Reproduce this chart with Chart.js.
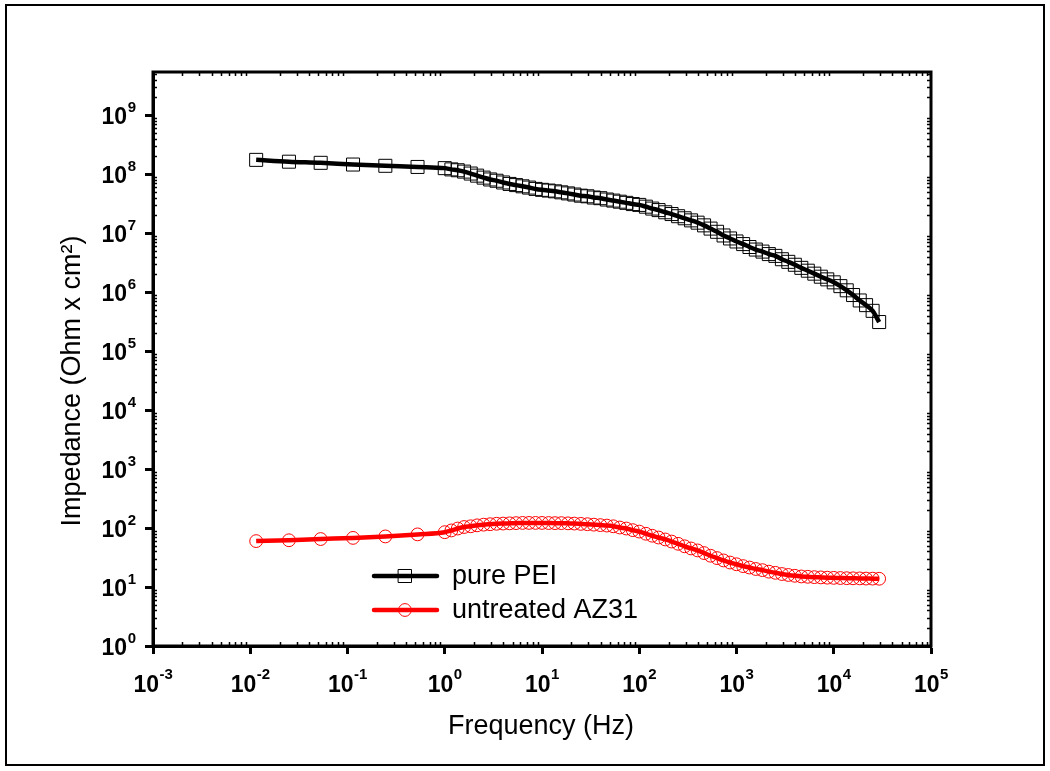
<!DOCTYPE html>
<html><head><meta charset="utf-8">
<script src="https://cdn.jsdelivr.net/npm/chart.js@4/dist/chart.umd.min.js"></script>
<style>html,body{margin:0;padding:0;background:#fff}#wrap{position:relative;width:1050px;height:771px}</style>
</head><body><div id="wrap"><canvas id="c"></canvas></div>
<script>
const frequencies = [
 0.0115, 0.025, 0.053, 0.114, 0.245, 0.525, 1.0,
 1.17, 1.36, 1.58, 1.85, 2.15, 2.51, 2.93, 3.41, 3.98, 4.64, 5.41, 6.31, 7.36, 8.58, 10.0,
 11.7, 13.6, 15.8, 18.5, 21.5, 25.1, 29.3, 34.1, 39.8, 46.4, 54.1, 63.1, 73.6, 85.8, 100,
 117, 136, 158, 185, 215, 251, 293, 341, 398, 464, 541, 631, 736, 858, 1000,
 1170, 1360, 1580, 1850, 2150, 2510, 2930, 3410, 3980, 4640, 5410, 6310, 7360, 8580, 10000,
 11700, 13600, 15800, 18500, 21500, 25100, 29300
];
const peiImpedance = [
 1.74e8,1.62e8,1.55e8,1.45e8,1.38e8,1.32e8,1.26e8,
 1.20e8,1.16e8,1.10e8,1.02e8,9.4e7,8.7e7,8.1e7,7.7e7,7.2e7,6.8e7,6.5e7,6.2e7,5.9e7,5.6e7,5.4e7,
 5.25e7,5.1e7,4.9e7,4.7e7,4.5e7,4.3e7,4.2e7,4.0e7,3.9e7,3.7e7,3.55e7,3.4e7,3.25e7,3.1e7,3.0e7,
 2.8e7,2.6e7,2.45e7,2.25e7,2.1e7,1.93e7,1.78e7,1.64e7,1.5e7,1.35e7,1.19e7,1.05e7,9.1e6,8.1e6,7.2e6,
 6.5e6,5.8e6,5.25e6,4.85e6,4.4e6,4.1e6,3.6e6,3.25e6,2.9e6,2.57e6,2.3e6,2.05e6,1.82e6,1.64e6,1.46e6,
 1.26e6,1.07e6,8.9e5,7.2e5,6.0e5,4.8e5,3.1e5
];
const az31Impedance = [
 60,62,65,68,72,78,85,
 91,98,104,107,111,114,116,118,119,120,121,122,122,122,122,
 121.5,121,121,120,119,117.5,116,114,112,110,107,102,98,92,87,
 80,74,69,64,59,54,49,45,41.7,37.6,33.9,30.9,28.2,26,24.3,
 22.6,21.4,20.2,19.3,18.2,17.4,16.6,16.0,15.5,15.1,14.9,14.7,14.55,14.4,14.3,
 14.2,14.1,14.05,14.0,13.9,13.87,13.8
];
const seriesLabels = ['pure PEI', 'untreated AZ31'];
const xTickValues = [1e-3,1e-2,1e-1,1e0,1e1,1e2,1e3,1e4,1e5];
const yTickValues = [1e0,1e1,1e2,1e3,1e4,1e5,1e6,1e7,1e8,1e9];
const xAxisTitle = 'Frequency (Hz)';
const yAxisTitle = 'Impedance (Ohm x cm\u00B2)';

const FONT = "'Liberation Sans', Arial, sans-serif";
function expOf(v){ return String(Math.round(Math.log10(v))); }

const outerBorder = {
  id:'outerBorder',
  afterDraw(chart){
    const ctx = chart.ctx;
    ctx.save();
    ctx.strokeStyle = '#000'; ctx.lineWidth = 2;
    ctx.strokeRect(6, 5, 1038, 760);
    ctx.restore();
  }
};
const frame = {
  id:'frame',
  afterDraw(chart){
    const {ctx, chartArea:a, scales:{x,y}} = chart;
    ctx.save();
    ctx.strokeStyle = '#000';
    ctx.lineWidth = 1.5;
    ctx.beginPath();
    for (let d=-3; d<5; d++) for (let m=2; m<10; m++){
      const px = Math.round(x.getPixelForValue(m*Math.pow(10,d)))+0.5;
      ctx.moveTo(px, a.bottom); ctx.lineTo(px, a.bottom-4);
      ctx.moveTo(px, a.top); ctx.lineTo(px, a.top+4);
    }
    for (let d=0; d<10; d++) for (let m=2; m<10; m++){
      const v = m*Math.pow(10,d);
      if (v > y.max) break;
      const py = Math.round(y.getPixelForValue(v))+0.5;
      ctx.moveTo(a.left, py); ctx.lineTo(a.left+4, py);
      ctx.moveTo(a.right, py); ctx.lineTo(a.right-4, py);
    }
    ctx.stroke();
    ctx.lineWidth = 3;
    ctx.strokeRect(a.left, a.top, a.right-a.left, a.bottom-a.top);
    ctx.restore();
  }
};
const powerLabels = {
  id:'powerLabels',
  afterDraw(chart){
    const {ctx, scales:{x,y}} = chart;
    const big = 'bold 23px ' + FONT, small = 'bold 15px ' + FONT;
    ctx.save();
    ctx.fillStyle = '#000';
    ctx.textBaseline = 'alphabetic';
    ctx.textAlign = 'left';
    x.ticks.forEach(t=>{
      const px = x.getPixelForValue(t.value);
      const e = expOf(t.value);
      ctx.font = big; const w1 = ctx.measureText('10').width;
      ctx.font = small; const w2 = ctx.measureText(e).width;
      const x0 = px - (w1 + w2)/2;
      ctx.font = big; ctx.fillText('10', x0, 692);
      ctx.font = small; ctx.fillText(e, x0 + w1 + 0.5, 679);
    });
    y.ticks.forEach(t=>{
      const py = y.getPixelForValue(t.value);
      const e = expOf(t.value);
      ctx.font = small; const w2 = ctx.measureText(e).width;
      ctx.font = big; const w1 = ctx.measureText('10').width;
      const xr = 136;
      ctx.font = big; ctx.fillText('10', xr - w2 - w1 - 0.5, py + 8.5);
      ctx.font = small; ctx.fillText(e, xr - w2, py - 3);
    });
    // axis titles
    ctx.font = '27px ' + FONT;
    ctx.textAlign = 'center'; ctx.textBaseline = 'middle';
    ctx.fillText(xAxisTitle, 541, 727);
    ctx.translate(73, 381); ctx.rotate(-Math.PI/2);
    ctx.fillText(yAxisTitle, 0, 0);
    ctx.restore();
  }
};
const insideLegend = {
  id:'insideLegend',
  afterDraw(chart){
    const ctx = chart.ctx;
    ctx.save();
    chart.data.datasets.forEach((ds,i)=>{
      const yy = 576 + i*34;
      ctx.strokeStyle = ds.borderColor; ctx.lineWidth = ds.borderWidth; ctx.lineCap='round';
      ctx.beginPath(); ctx.moveTo(374, yy); ctx.lineTo(437, yy); ctx.stroke();
      ctx.lineWidth = 1; ctx.strokeStyle = ds.pointBorderColor;
      ctx.fillStyle = 'rgba(255,255,255,0)';
      Chart.helpers.drawPoint(ctx, {pointStyle: ds.pointStyle, radius: ds.pointRadius, borderWidth:1, rotation:0}, 405, yy);
      ctx.fillStyle = '#000';
      ctx.font = '27px ' + FONT;
      ctx.textBaseline = 'middle';
      ctx.fillText(ds.label, 452, yy+1);
    });
    ctx.restore();
  }
};

new Chart(document.getElementById('c'), {
  type:'line',
  data:{
    labels: frequencies,
    datasets:[
      {label: seriesLabels[0], data: frequencies.map((f,i)=>({x:f, y:peiImpedance[i]})),
       borderColor:'#000', borderWidth:4.5, pointStyle:'rect', pointRadius:9.2,
       pointBorderColor:'#000', pointBackgroundColor:'rgba(0,0,0,0)', pointBorderWidth:1,
       cubicInterpolationMode:'monotone', fill:false},
      {label: seriesLabels[1], data: frequencies.map((f,i)=>({x:f, y:az31Impedance[i]})),
       borderColor:'#ff0000', borderWidth:4.5, pointStyle:'circle', pointRadius:6.4,
       pointBorderColor:'#ff0000', pointBackgroundColor:'rgba(0,0,0,0)', pointBorderWidth:1,
       cubicInterpolationMode:'monotone', fill:false}
    ]
  },
  options:{
    responsive:true, maintainAspectRatio:false, animation:false,
    layout:{padding:{left:0, top:72, right:119, bottom:0}},
    plugins:{legend:{display:false}, tooltip:{enabled:false}},
    scales:{
      x:{type:'logarithmic', min:1e-3, max:1e5,
        afterBuildTicks:s=>{s.ticks = xTickValues.map(v=>({value:v, major:true}));},
        afterFit:s=>{s.height = 125;},
        ticks:{display:false, autoSkip:false, maxRotation:0},
        grid:{drawOnChartArea:false, drawTicks:true, tickLength:8, tickWidth:3, tickColor:'#000', color:'#000'},
        border:{display:true, width:3, color:'#000'},
        title:{display:false, text:xAxisTitle}
      },
      y:{type:'logarithmic', min:1, max:Math.pow(10,9.73),
        afterBuildTicks:s=>{s.ticks = yTickValues.map(v=>({value:v, major:true}));},
        afterFit:s=>{s.width = 153;},
        ticks:{display:false, autoSkip:false},
        grid:{drawOnChartArea:false, drawTicks:true, tickLength:8, tickWidth:3, tickColor:'#000', color:'#000'},
        border:{display:true, width:3, color:'#000'},
        title:{display:false, text:yAxisTitle}
      }
    }
  },
  plugins:[outerBorder, frame, powerLabels, insideLegend]
});
</script></body></html>
